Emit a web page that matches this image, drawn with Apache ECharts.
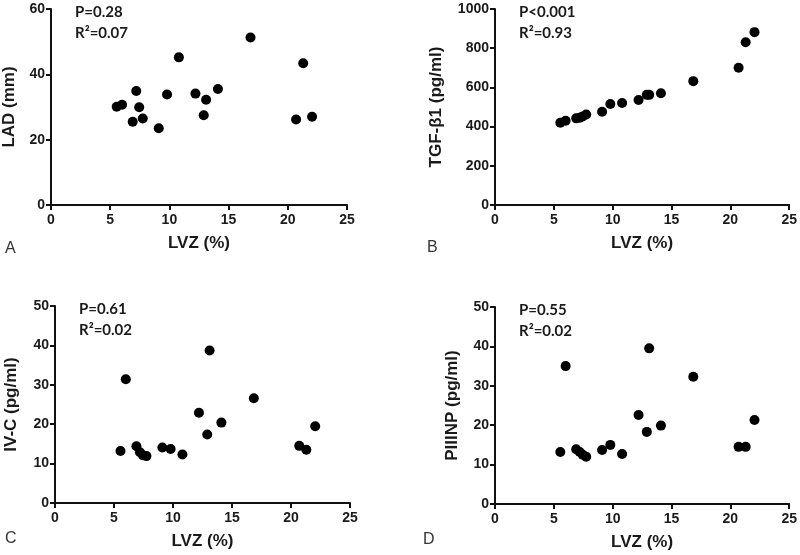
<!DOCTYPE html>
<html>
<head>
<meta charset="utf-8">
<script src="https://cdn.jsdelivr.net/npm/echarts@6/dist/echarts.min.js"></script>
<style>
  html, body { margin: 0; padding: 0; background: #fff; }
  #chart { width: 800px; height: 555px; }
</style>
</head>
<body>
<div id="chart"></div>
<script>
// LVZ (%) shared by all four panels
var lvz = [5.55, 6.0, 6.9, 7.2, 7.45, 7.75, 9.1, 9.8, 10.8, 12.2, 12.9, 13.1, 14.1, 16.85, 20.7, 21.3, 22.05];
// A: LAD (mm)
var lad = [30.1, 30.7, 25.5, 34.9, 29.9, 26.5, 23.5, 33.8, 45.2, 34.1, 27.5, 32.2, 35.5, 51.3, 26.2, 43.4, 27.0];
// B: TGF-β1 (pg/ml)
var tgf = [420, 430, 442, 445, 452, 462, 476, 515, 520, 536, 562, 562, 570, 632, 700, 830, 882];
// C: IV-C (pg/ml)
var ivc = [13.2, 31.4, 14.4, 12.9, 12.1, 11.9, 14.1, 13.7, 12.3, 22.9, 17.4, 38.7, 20.4, 26.6, 14.5, 13.5, 19.5];
// D: PIIINP (pg/ml)
var piiinp = [13.2, 35.0, 13.9, 13.2, 12.5, 12.0, 13.7, 15.0, 12.7, 22.6, 18.3, 39.5, 19.9, 32.3, 14.5, 14.5, 21.3];

var panelNames = ['LAD (mm)', 'TGF-β1 (pg/ml)', 'IV-C (pg/ml)', 'PIIINP (pg/ml)'];
var panelLetters = ['A', 'B', 'C', 'D'];
var pValues = ['P=0.28', 'P<0.001', 'P=0.61', 'P=0.55'];
var r2Values = ['R²=0.07', 'R²=0.93', 'R²=0.02', 'R²=0.02'];
var yMax = [60, 1000, 50, 50];
var yStep = [20, 200, 10, 10];

var myChart = echarts.init(document.getElementById('chart'));

// panel boxes (grid positions)
var boxes = [
  {left: 51, top: 9, width: 296, height: 196, yGap: 33},
  {left: 495, top: 9, width: 296, height: 196, yGap: 50},
  {left: 55, top: 306, width: 295, height: 197, yGap: 35},
  {left: 495, top: 307, width: 296, height: 197, yGap: 34}
];
var allY = [lad, tgf, ivc, piiinp];

var axisFont = 'Liberation Sans, Arial, sans-serif';
var grids = [], xAxes = [], yAxes = [], series = [], graphics = [];

boxes.forEach(function (b, i) {
  grids.push({left: b.left, top: b.top, width: b.width, height: b.height, containLabel: false});
  xAxes.push({
    gridIndex: i, type: 'value', min: 0, max: 25, interval: 5,
    name: 'LVZ (%)', nameLocation: 'middle', nameGap: 30,
    nameTextStyle: {fontFamily: axisFont, fontWeight: 'bold', fontSize: 17, color: '#1a1a1a'},
    axisLine: {lineStyle: {color: '#111', width: 2}},
    axisTick: {length: 5, lineStyle: {color: '#111', width: 2}},
    axisLabel: {fontFamily: axisFont, fontWeight: 'bold', fontSize: 14, color: '#1a1a1a', margin: 8},
    splitLine: {show: false}
  });
  yAxes.push({
    gridIndex: i, type: 'value', min: 0, max: yMax[i], interval: yStep[i],
    name: panelNames[i], nameLocation: 'middle', nameGap: b.yGap, nameRotate: 90,
    nameTextStyle: {fontFamily: axisFont, fontWeight: 'bold', fontSize: 17, color: '#1a1a1a'},
    axisLine: {show: true, lineStyle: {color: '#111', width: 2}},
    axisTick: {show: true, length: 5, lineStyle: {color: '#111', width: 2}},
    axisLabel: {
      fontFamily: axisFont, fontWeight: 'bold', fontSize: 14, color: '#1a1a1a', margin: 6,
      formatter: function (v) { return String(v); }
    },
    splitLine: {show: false}
  });
  series.push({
    type: 'scatter', xAxisIndex: i, yAxisIndex: i,
    symbol: 'circle', symbolSize: 10,
    itemStyle: {color: '#000', opacity: 1},
    data: lvz.map(function (x, k) { return [x, allY[i][k]]; })
  });
  // P and R² annotations
  graphics.push({
    type: 'text', left: b.left + 24, top: b.top - 4,
    style: {text: pValues[i], font: 'bold 15px Lato, sans-serif', fill: '#1a1a1a'}
  });
  graphics.push({
    type: 'text', left: b.left + 24, top: b.top + 17,
    style: {text: r2Values[i], font: 'bold 15px Lato, sans-serif', fill: '#1a1a1a'}
  });
});

// panel letters
var letterPos = [[5, 241], [427, 240], [5, 531], [423, 532]];
letterPos.forEach(function (p, i) {
  graphics.push({
    type: 'text', left: p[0], top: p[1],
    style: {text: panelLetters[i], font: '16px Liberation Sans, Arial, sans-serif', fill: '#333'}
  });
});

var option = {
  backgroundColor: '#fff',
  animation: false,
  grid: grids,
  xAxis: xAxes,
  yAxis: yAxes,
  series: series,
  graphic: graphics
};
myChart.setOption(option);
</script>
</body>
</html>
